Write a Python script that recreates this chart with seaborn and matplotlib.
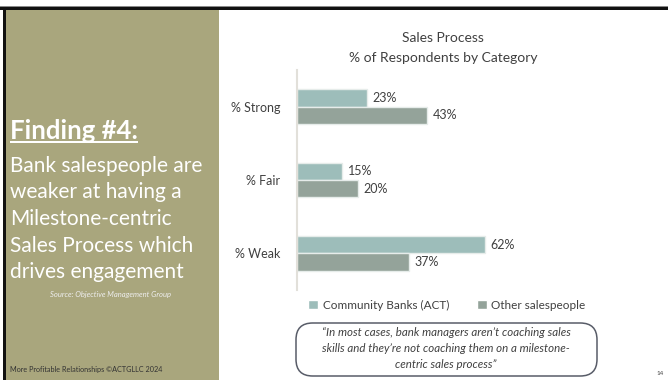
import matplotlib
matplotlib.use("Agg")
import matplotlib.pyplot as plt
from matplotlib.patches import Rectangle, FancyBboxPatch
import seaborn as sns
import pandas as pd

# Survey results
categories = ["% Strong", "% Fair", "% Weak"]
series_names = ["Community Banks (ACT)", "Other salespeople"]
community_banks = [23, 15, 62]
other_salespeople = [43, 20, 37]

title_lines = ["Sales Process", "% of Respondents by Category"]
headline = "Finding #4:"
body_lines = ["Bank salespeople are", "weaker at having a", "Milestone-centric",
              "Sales Process which", "drives engagement"]
source_text = "Source: Objective Management Group"
footer_text = "More Profitable Relationships \u00a9ACTGLLC 2024"
quote_lines = ["\u201cIn most cases, bank managers aren\u2019t coaching sales",
               "skills and they\u2019re not coaching them on a milestone-",
               "centric sales process\u201d"]
page_number = "14"

df = pd.DataFrame({
    "category": categories * 2,
    "series": [series_names[0]] * 3 + [series_names[1]] * 3,
    "value": community_banks + other_salespeople,
})

sns.set_theme(style="white")
plt.rcParams["font.family"] = ["Lato", "DejaVu Sans"]

W, H = 668, 380
fig = plt.figure(figsize=(W / 100, H / 100), dpi=100)
fig.patch.set_facecolor("white")

def px(x, y):
    return x / W, 1 - y / H

# Slide frame: dark top rule, left rule and olive side panel
fig.patches.append(Rectangle(px(0, 10), 1, 4 / H, transform=fig.transFigure,
                             facecolor="#111111", edgecolor="none", zorder=0))
fig.patches.append(Rectangle(px(0, 7), 1, 1 / H, transform=fig.transFigure,
                             facecolor="#8a8a8a", edgecolor="none", zorder=0))
fig.patches.append(Rectangle(px(3, 380), 3 / W, 370 / H, transform=fig.transFigure,
                             facecolor="#111111", edgecolor="none", zorder=0))
fig.patches.append(Rectangle(px(6, 380), 213 / W, 370 / H, transform=fig.transFigure,
                             facecolor="#a9a67d", edgecolor="none", zorder=0))

# Side panel text
head = fig.text(*px(10, 139), headline, color="white", fontsize=18.5,
                fontweight="bold", ha="left", va="baseline")
for i, line in enumerate(body_lines):
    fig.text(*px(10, 172 + i * 26.5), line, color="white", fontsize=15,
             ha="left", va="baseline")
fig.text(*px(111, 297), source_text, color="#eeeeee", fontsize=5.5, style="italic",
         ha="center", va="baseline")
fig.text(*px(10, 372), footer_text, color="#333333", fontsize=5.2,
         ha="left", va="baseline")
fig.text(*px(664, 375), page_number, color="#444444", fontsize=4.5,
         ha="right", va="baseline")

# Underline under the headline, as wide as the rendered text
fig.canvas.draw()
bb = head.get_window_extent()
fig.patches.append(Rectangle((bb.x0 / W, 1 - 143 / H), bb.width / W, 1.6 / H,
                             transform=fig.transFigure, facecolor="white",
                             edgecolor="none"))

# Bar chart
ax = fig.add_axes([297 / W, 90 / H, 303 / W, 220 / H])
palette = {series_names[0]: "#9dbdba", series_names[1]: "#94a39a"}
sns.barplot(data=df, y="category", x="value", hue="series", orient="h",
            palette=palette, width=0.47, ax=ax, edgecolor="#e6ecea",
            linewidth=1, saturation=1)
ax.set_xlim(0, 100)
ax.set_ylim(2.5, -0.5)
ax.set_xlabel("")
ax.set_ylabel("")
ax.set_xticks([])
ax.tick_params(axis="y", length=0, pad=12, labelsize=9, labelcolor="#404040")
for s in ["top", "right", "bottom"]:
    ax.spines[s].set_visible(False)
ax.spines["left"].set_color("#e2e0da")
ax.spines["left"].set_linewidth(1.5)
ax.set_facecolor("none")

for cont, vals in zip(ax.containers, [community_banks, other_salespeople]):
    ax.bar_label(cont, labels=[f"{v}%" for v in vals], padding=4,
                 fontsize=9, color="#404040")

ax.legend_.remove()
handles = [Rectangle((0, 0), 1, 1, facecolor=palette[n]) for n in series_names]
fig.legend(handles, series_names, loc="center", bbox_to_anchor=px(447, 305),
           ncol=2, frameon=False, fontsize=8.5, handlelength=0.85, handleheight=0.85,
           handletextpad=0.4, columnspacing=2.3, labelcolor="#404040")

fig.text(*px(443, 42), title_lines[0], ha="center", va="baseline",
         fontsize=10, color="#404040")
fig.text(*px(443, 62), title_lines[1], ha="center", va="baseline",
         fontsize=10, color="#404040")

# Quote box
fig.patches.append(FancyBboxPatch(px(296, 376), 301 / W, 53 / H,
                                  boxstyle="round,pad=0,rounding_size=0.025",
                                  transform=fig.transFigure, facecolor="white",
                                  edgecolor="#585c68", linewidth=1.1,
                                  mutation_aspect=W / H))
for i, line in enumerate(quote_lines):
    fig.text(*px(446, 336 + i * 16), line, ha="center", va="baseline",
             fontsize=8.3, style="italic", color="#404040")

fig.savefig("out.png", dpi=100)
